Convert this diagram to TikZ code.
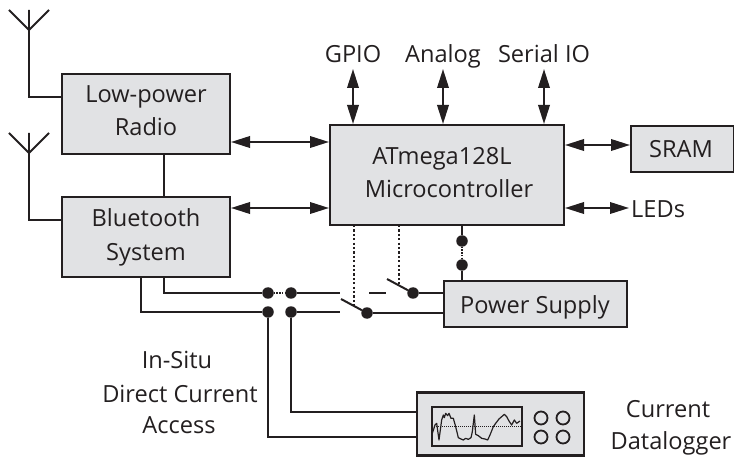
\documentclass[tikz,border=0pt]{standalone}
\usepackage{fontspec}
\setmainfont{Open Sans}
\usetikzlibrary{arrows.meta,calc}
\definecolor{ink}{HTML}{231F20}
\definecolor{boxgray}{HTML}{E1E2E4}
\tikzset{
  blockbox/.style={draw=ink,fill=boxgray,line width=2.2pt,rectangle,inner sep=0pt,outer sep=0pt},
  wire/.style={draw=ink,line width=2pt},
  thinwire/.style={draw=ink,line width=1.8pt},
  dbl/.style={draw=ink,line width=2pt,{Triangle[length=19pt,width=11.5pt]}-{Triangle[length=19pt,width=11.5pt]},shorten <=1pt,shorten >=1pt},
  ctl/.style={draw=ink,line width=2pt,dash pattern=on 2.2pt off 2.2pt},
  bridge/.style={draw=ink,line width=1.8pt,dash pattern=on 1.5pt off 1.2pt},
  junction/.style={circle,fill=ink,inner sep=0pt,minimum size=11.5pt,outer sep=0pt},
  lbl/.style={anchor=base,inner sep=0pt,text=ink,font=\fontsize{23.6}{26}\selectfont},
  knob/.style={circle,draw=ink,line width=1.8pt,minimum size=13pt,inner sep=0pt},
}
\begin{document}
\begin{tikzpicture}[x=1pt,y=-1pt]
\useasboundingbox (0,0) rectangle (734,457);
% blocks
\node[blockbox,minimum width=168pt,minimum height=80pt] (radio) at (146,114) {};
\node[blockbox,minimum width=168pt,minimum height=80pt] (bt) at (146,237) {};
\node[blockbox,minimum width=234pt,minimum height=100pt] (mcu) at (447,175) {};
\node[blockbox,minimum width=103pt,minimum height=46pt] (sram) at (682.5,149) {};
\node[blockbox,minimum width=183pt,minimum height=46pt] (psu) at (535.5,304) {};
\node[blockbox,minimum width=167pt,minimum height=63pt] (logger) at (500.5,424) {};
\node[draw=ink,fill=boxgray,line width=2pt,rectangle,inner sep=0pt,outer sep=0pt,minimum width=90pt,minimum height=39pt] (screen) at (477,426.5) {};
% labels
\node[lbl] (t1) at (146,103) {Low-power};
\node[lbl] (t2) at (146,136) {Radio};
\node[lbl] (t3) at (146,227) {Bluetooth};
\node[lbl] (t4) at (146,261) {System};
\node[lbl] (t5) at (442,165) {ATmega128L};
\node[lbl] (t6) at (449,198) {Microcontroller};
\node[lbl] (t7) at (681,158) {SRAM};
\node[lbl] (t8) at (535,313) {Power Supply};
\node[lbl] (gpio) at (353,63) {GPIO};
\node[lbl] (analog) at (443,63) {Analog};
\node[lbl] (serial) at (544,63) {Serial IO};
\node[lbl,anchor=base west] (leds) at (631,218) {LEDs};
\node[lbl] (t9) at (177,368) {In-Situ};
\node[lbl] (t10) at (180,402) {Direct Current};
\node[lbl] (t11) at (179,433) {Access};
\node[lbl] (t12) at (668,417) {Current};
\node[lbl] (t13) at (671,449) {Datalogger};
% antennas
\coordinate (ant1) at (29,30); \coordinate (ant1t) at (29,10);
\coordinate (ant1l) at (9,10); \coordinate (ant1r) at (49,10);
\coordinate (ant1e) at (29,97);
\coordinate (ant2) at (29,153); \coordinate (ant2t) at (29,133);
\coordinate (ant2l) at (9,133); \coordinate (ant2r) at (49,133);
\coordinate (ant2e) at (29,220);
\draw[thinwire] (ant1l) -- (ant1) -- (ant1r) (ant1t) -- (ant1);
\draw[thinwire] (ant2l) -- (ant2) -- (ant2r) (ant2t) -- (ant2);
\draw[wire] (ant1) -- (ant1e) -- (radio.west |- ant1e);
\draw[wire] (ant2) -- (ant2e) -- (bt.west |- ant2e);
% radio to bluetooth
\coordinate (rb) at (164,150);
\draw[wire] (radio.south -| rb) -- (bt.north -| rb);
% double arrows
\coordinate (a1) at (280,142); \coordinate (a2) at (280,208);
\coordinate (a3) at (590,145); \coordinate (a4) at (590,208);
\coordinate (ledend) at (630,208);
\draw[dbl] (radio.east |- a1) -- (mcu.west |- a1);
\draw[dbl] (bt.east |- a2) -- (mcu.west |- a2);
\draw[dbl] (mcu.east |- a3) -- (sram.west |- a3);
\draw[dbl] (mcu.east |- a4) -- (ledend);
\coordinate (g1) at (353,68); \coordinate (g2) at (443,68); \coordinate (g3) at (544,68);
\draw[dbl] (g1) -- (mcu.north -| g1);
\draw[dbl] (g2) -- (mcu.north -| g2);
\draw[dbl] (g3) -- (mcu.north -| g3);
% MCU - power supply
\node[junction] (j1) at (462,241) {};
\node[junction] (j2) at (462,265) {};
\draw[wire] (mcu.south -| j1) -- (j1);
\draw[wire] (j2) -- (psu.north -| j2);
\draw[bridge] (j1) -- (j2);
% current paths
\node[junction] (ua) at (268,293) {};
\node[junction] (ub) at (291,293) {};
\node[junction] (la) at (268,312) {};
\node[junction] (lb) at (291,312) {};
\node[junction] (s1) at (413,293) {};
\node[junction] (s2) at (367,313) {};
\coordinate (uy) at (164,293); \coordinate (ly) at (141,312);
\coordinate (ubrk) at (340,293); \coordinate (lbrk) at (340,312);
\coordinate (d1) at (369,293); \coordinate (d2) at (386,293);
\coordinate (lev1) at (387,279); \coordinate (lev2) at (341,299);
\draw[wire] (bt.south -| uy) -- (uy) -- (ua);
\draw[wire] (bt.south -| ly) -- (ly) -- (la);
\draw[bridge] (ua) -- (ub);
\draw[wire] (ub) -- (ubrk);
\draw[wire] (lb) -- (lbrk);
\draw[wire] (d1) -- (d2);
\draw[wire] (s1) -- (lev1);
\draw[wire] (s2) -- (lev2);
\draw[wire] (s1) -- (psu.west |- s1);
\draw[wire] (s2) -- (psu.west |- s2);
% control lines
\coordinate (c1) at (354,307); \coordinate (c2) at (399,285);
\draw[ctl] (mcu.south -| c1) -- (c1);
\draw[ctl] (mcu.south -| c2) -- (c2);
% datalogger leads
\coordinate (dl1) at (268,437); \coordinate (dl2) at (291,412);
\draw[wire] (la) -- (dl1) -- (logger.west |- dl1);
\draw[wire] (lb) -- (dl2) -- (logger.west |- dl2);
% screen trace
\begin{scope}[shift={(425,395)},x=0.3333pt,y=-0.3333pt]
\draw[draw=ink,line width=0.6pt,dash pattern=on 1pt off 1pt] (22,93) -- (288,93);
\draw[draw=ink,line width=1.2pt,line join=round] (22,115)--(30,90)--(35,85)--(42,135)--(50,75)--(55,60)--(58,68)--(62,55)--(68,62)--(72,55)--(78,70)--(85,70)--(92,95)--(100,128)--(108,132)--(115,135)--(122,130)--(130,133)--(138,128)--(142,110)--(148,60)--(152,118)--(160,122)--(170,130)--(180,132)--(188,135)--(195,120)--(205,95)--(212,85)--(222,72)--(230,65)--(238,58)--(245,65)--(252,78)--(260,90)--(268,75)--(275,85)--(285,78);
\end{scope}
% knobs
\node[knob] (k1) at (541,418) {};
\node[knob] (k2) at (563,418) {};
\node[knob] (k3) at (541,437) {};
\node[knob] (k4) at (563,437) {};
\end{tikzpicture}
\end{document}
